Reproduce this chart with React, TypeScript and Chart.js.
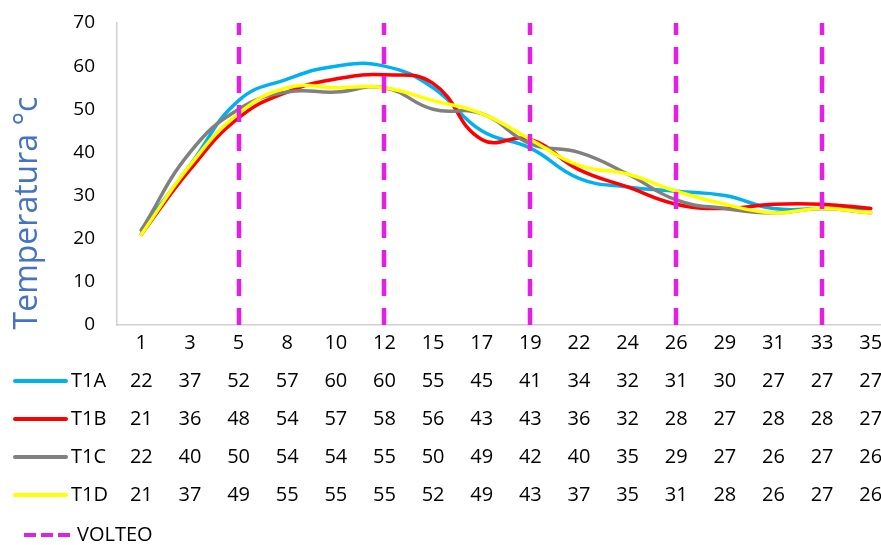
import React, { useEffect, useRef } from "react";
import { Chart, registerables } from "chart.js";

Chart.register(...registerables);

// Sampling days (x categories)
const days = ["1", "3", "5", "8", "10", "12", "15", "17", "19", "22", "24", "26", "29", "31", "33", "35"];

// Temperature per treatment (°C)
const t1a = [22, 37, 52, 57, 60, 60, 55, 45, 41, 34, 32, 31, 30, 27, 27, 27];
const t1b = [21, 36, 48, 54, 57, 58, 56, 43, 43, 36, 32, 28, 27, 28, 28, 27];
const t1c = [22, 40, 50, 54, 54, 55, 50, 49, 42, 40, 35, 29, 27, 26, 27, 26];
const t1d = [21, 37, 49, 55, 55, 55, 52, 49, 43, 37, 35, 31, 28, 26, 27, 26];

// Days on which the pile was turned
const volteoDays = ["5", "12", "19", "26", "33"];

const yTicks = [0, 10, 20, 30, 40, 50, 60, 70];

const yTitle = "Temperatura °c";

const FONT = "'Open Sans', sans-serif";
const VOLTEO_COLOR = "#E41FE4";

const series = [
  { label: "T1A", data: t1a, color: "#00B0F0", order: 4 },
  { label: "T1B", data: t1b, color: "#FF0000", order: 3 },
  { label: "T1C", data: t1c, color: "#808080", order: 2 },
  { label: "T1D", data: t1d, color: "#FFFF00", order: 1 },
];

// Dashed vertical markers for the turning days
const volteoPlugin = {
  id: "volteoLines",
  afterDatasetsDraw(chart: any) {
    const { ctx, chartArea, scales } = chart;
    const x = scales.x;
    const y = scales.y;
    ctx.save();
    ctx.strokeStyle = VOLTEO_COLOR;
    ctx.lineWidth = 4.5;
    ctx.setLineDash([17, 12]);
    volteoDays.forEach((d) => {
      const px = Math.round(x.getPixelForValue(days.indexOf(d)));
      ctx.beginPath();
      ctx.moveTo(px, y.getPixelForValue(0));
      ctx.lineTo(px, chartArea.top);
      ctx.stroke();
    });
    ctx.restore();
  },
};

// Data table with legend keys under the x axis, plus the rotated y title
const tablePlugin = {
  id: "dataTable",
  afterDraw(chart: any) {
    const { ctx, chartArea, scales } = chart;
    const x = scales.x;
    const base = chartArea.bottom;
    ctx.save();
    ctx.font = `20px ${FONT}`;
    ctx.textBaseline = "middle";
    series.forEach((s, r) => {
      const rowY = base + 56 + r * 38;
      ctx.strokeStyle = s.color;
      ctx.lineWidth = 4;
      ctx.lineCap = "round";
      ctx.setLineDash([]);
      ctx.beginPath();
      ctx.moveTo(15, rowY);
      ctx.lineTo(66, rowY);
      ctx.stroke();
      ctx.fillStyle = "#000";
      ctx.textAlign = "left";
      ctx.fillText(s.label, 71, rowY);
      ctx.textAlign = "center";
      s.data.forEach((v, i) => {
        ctx.fillText(String(v), x.getPixelForValue(i), rowY);
      });
    });
    const vy = base + 210;
    ctx.strokeStyle = VOLTEO_COLOR;
    ctx.lineWidth = 4;
    ctx.lineCap = "butt";
    ctx.setLineDash([12, 5]);
    ctx.beginPath();
    ctx.moveTo(24, vy);
    ctx.lineTo(70, vy);
    ctx.stroke();
    ctx.setLineDash([]);
    ctx.fillStyle = "#000";
    ctx.textAlign = "left";
    ctx.fillText("VOLTEO", 77, vy);

    // y axis title
    ctx.translate(28, 213);
    ctx.rotate(-Math.PI / 2);
    ctx.font = `32px ${FONT}`;
    ctx.fillStyle = "#4472C4";
    ctx.textAlign = "center";
    ctx.textBaseline = "middle";
    ctx.fillText(yTitle, 0, 0);
    ctx.restore();
  },
};

export default function App() {
  const ref = useRef<HTMLCanvasElement | null>(null);

  useEffect(() => {
    if (!ref.current) return;
    const chart = new Chart(ref.current, {
      type: "line",
      data: {
        labels: days,
        datasets: series.map((s) => ({
          label: s.label,
          data: s.data,
          borderColor: s.color,
          backgroundColor: s.color,
          borderWidth: 3.5,
          pointRadius: 0,
          tension: 0.45,
          fill: false,
          order: s.order,
          borderCapStyle: "round" as const,
        })),
      },
      options: {
        animation: false,
        responsive: false,
        maintainAspectRatio: false,
        layout: { padding: { top: 23, right: 0, left: 0, bottom: 0 } },
        plugins: {
          legend: { display: false },
          tooltip: { enabled: false },
          title: { display: false },
        },
        scales: {
          x: {
            offset: true,
            grid: { display: false, drawTicks: false },
            border: { display: true, color: "#D0D0D0", width: 1.5 },
            ticks: {
              color: "#000",
              font: { family: FONT, size: 20 },
              padding: 6,
              maxRotation: 0,
              autoSkip: false,
            },
            afterFit(scale: any) {
              scale.height = 220;
              scale.paddingLeft = 0;
              scale.paddingRight = 0;
            },
          },
          y: {
            min: 0,
            max: 70,
            afterBuildTicks(scale: any) {
              scale.ticks = yTicks.map((v) => ({ value: v }));
            },
            grid: { display: false, drawTicks: false },
            border: { display: true, color: "#D0D0D0", width: 1.5 },
            ticks: {
              color: "#000",
              font: { family: FONT, size: 19 },
              padding: 22,
            },
            title: { display: false },
            afterFit(scale: any) {
              scale.width = 117;
              scale.paddingTop = 0;
              scale.paddingBottom = 0;
            },
          },
        },
      },
      plugins: [volteoPlugin, tablePlugin],
    });
    return () => chart.destroy();
  }, []);

  return (
    <div
      style={{
        position: "fixed",
        left: 0,
        top: 0,
        width: 881,
        height: 545,
        overflow: "hidden",
        background: "#fff",
      }}
    >
      <canvas ref={ref} width={895} height={545} style={{ display: "block" }} />
    </div>
  );
}
